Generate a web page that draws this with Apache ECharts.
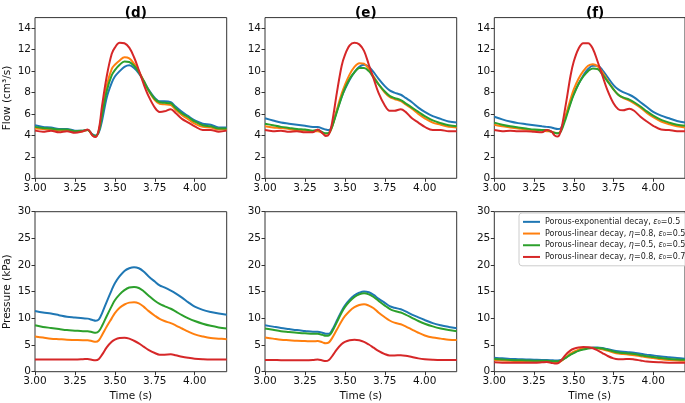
<!DOCTYPE html>
<html><head><meta charset="utf-8">
<script src="https://cdn.jsdelivr.net/npm/echarts@6/dist/echarts.min.js"></script>
<style>html,body{margin:0;padding:0;background:#fff}#c{width:685px;height:403px}</style>
</head><body><div id="c"></div>
<script>
const time = [3.00,3.05,3.10,3.15,3.20,3.25,3.30,3.33,3.36,3.38,3.40,3.42,3.45,3.48,3.50,3.53,3.56,3.59,3.62,3.65,3.68,3.71,3.75,3.78,3.81,3.85,3.88,3.92,3.96,4.00,4.05,4.10,4.15,4.20];
const seriesNames = ['Porous-exponential decay, ε₀=0.5','Porous-linear decay, η=0.8, ε₀=0.5','Porous-linear decay, η=0.5, ε₀=0.5','Porous-linear decay, η=0.8, ε₀=0.7'];
const colors = ['#1f77b4','#ff7f0e','#2ca02c','#d62728'];
const panelTitles = ['(d)','(e)','(f)'];
const xTicks = [3.00,3.25,3.50,3.75,4.00];

// Flow (cm^3/s), panel d
const flowD_blue  = [4.95,4.8,4.75,4.6,4.6,4.45,4.45,4.5,4.1,4.0,4.3,5.4,7.6,8.9,9.5,10.0,10.4,10.55,10.3,9.8,9.1,8.3,7.5,7.2,7.2,7.1,6.7,6.2,5.8,5.4,5.1,5.0,4.75,4.75];
const flowD_orange= [4.65,4.6,4.55,4.45,4.5,4.35,4.4,4.5,4.0,3.9,4.5,6.2,8.7,10.2,10.6,11.0,11.3,11.2,10.7,10.0,9.1,8.2,7.3,6.95,6.9,6.85,6.4,5.9,5.5,5.1,4.8,4.75,4.55,4.55];
const flowD_green = [4.8,4.7,4.65,4.55,4.55,4.4,4.45,4.5,4.05,3.95,4.4,5.9,8.2,9.6,10.1,10.6,10.9,10.85,10.5,9.9,9.1,8.25,7.4,7.1,7.05,7.0,6.55,6.05,5.7,5.3,4.95,4.85,4.65,4.65];
const flowD_red   = [4.45,4.35,4.45,4.3,4.4,4.25,4.4,4.55,4.0,3.85,4.6,6.8,9.6,11.6,12.2,12.65,12.6,12.2,11.3,10.1,8.8,7.7,6.6,6.2,6.25,6.45,6.1,5.55,5.2,4.85,4.5,4.5,4.35,4.45];
// Flow, panel e
const flowE_blue  = [5.6,5.4,5.2,5.1,5.0,4.9,4.8,4.8,4.65,4.55,4.5,4.9,6.3,7.6,8.3,9.2,9.9,10.4,10.6,10.4,9.9,9.3,8.6,8.2,8.0,7.8,7.5,7.1,6.6,6.2,5.8,5.55,5.3,5.2];
const flowE_orange= [4.85,4.75,4.7,4.6,4.5,4.45,4.4,4.4,4.25,4.15,4.2,4.8,6.4,7.9,8.7,9.7,10.4,10.75,10.7,10.2,9.5,8.8,8.0,7.6,7.4,7.2,6.9,6.5,6.0,5.6,5.2,5.0,4.8,4.75];
const flowE_green = [5.1,4.95,4.8,4.7,4.6,4.55,4.45,4.5,4.3,4.2,4.25,4.8,6.2,7.6,8.4,9.3,9.9,10.3,10.3,10.0,9.4,8.8,8.1,7.7,7.5,7.3,7.0,6.6,6.2,5.8,5.4,5.15,4.95,4.85];
const flowE_red   = [4.5,4.4,4.45,4.35,4.4,4.3,4.3,4.55,4.2,3.95,4.1,5.2,8.0,10.5,11.5,12.4,12.65,12.5,11.9,10.6,9.3,8.0,6.8,6.3,6.3,6.45,6.2,5.6,5.2,4.8,4.5,4.5,4.4,4.4];
// Flow, panel f
const flowF_blue  = [5.75,5.5,5.3,5.15,5.05,4.95,4.85,4.8,4.75,4.65,4.6,4.7,5.8,7.1,7.9,8.8,9.6,10.2,10.5,10.5,10.1,9.5,8.7,8.3,8.05,7.8,7.55,7.1,6.65,6.2,5.85,5.6,5.35,5.2];
const flowF_orange= [5.0,4.85,4.75,4.65,4.55,4.5,4.45,4.4,4.35,4.25,4.2,4.5,5.9,7.4,8.3,9.3,10.0,10.5,10.65,10.45,9.9,9.2,8.3,7.8,7.5,7.25,7.0,6.6,6.1,5.7,5.3,5.05,4.85,4.75];
const flowF_green = [5.2,5.0,4.85,4.75,4.65,4.55,4.5,4.5,4.35,4.25,4.2,4.4,5.6,7.0,7.8,8.8,9.5,10.0,10.25,10.2,9.7,9.1,8.3,7.8,7.55,7.35,7.1,6.7,6.25,5.85,5.45,5.2,5.0,4.9];
const flowF_red   = [4.5,4.4,4.45,4.4,4.4,4.35,4.3,4.5,4.35,4.0,3.9,4.5,6.9,9.6,10.9,12.1,12.6,12.6,12.1,10.9,9.6,8.3,7.0,6.45,6.35,6.5,6.3,5.75,5.3,4.9,4.55,4.5,4.4,4.4];
// Pressure (kPa), panel d
const presD_blue  = [11.4,11.1,10.9,10.6,10.3,10.15,10.0,9.95,9.7,9.55,9.8,11.0,13.2,15.3,16.6,17.9,18.9,19.4,19.6,19.4,18.8,17.9,16.9,16.2,15.8,15.2,14.7,13.9,13.0,12.2,11.6,11.2,10.9,10.7];
const presD_orange= [6.6,6.4,6.2,6.1,6.0,5.95,5.9,5.9,5.7,5.6,5.9,6.9,8.5,10.0,11.0,12.0,12.6,12.95,13.0,12.8,12.2,11.4,10.5,9.9,9.5,9.1,8.7,8.1,7.5,7.0,6.6,6.3,6.2,6.1];
const presD_green = [8.7,8.4,8.2,8.0,7.8,7.7,7.6,7.6,7.4,7.3,7.6,8.6,10.5,12.3,13.4,14.5,15.3,15.8,15.9,15.7,15.1,14.3,13.3,12.7,12.3,11.8,11.3,10.6,10.0,9.5,9.0,8.6,8.3,8.1];
const presD_red   = [2.3,2.3,2.3,2.3,2.3,2.3,2.35,2.4,2.2,2.15,2.4,3.2,4.6,5.6,6.0,6.3,6.35,6.2,5.8,5.3,4.7,4.1,3.5,3.2,3.2,3.25,3.1,2.8,2.6,2.45,2.35,2.3,2.3,2.3];
// Pressure, panel e
const presE_blue  = [8.7,8.45,8.2,8.0,7.8,7.65,7.5,7.5,7.3,7.1,7.1,7.8,9.6,11.4,12.4,13.5,14.3,14.8,15.05,14.9,14.4,13.7,12.9,12.3,12.0,11.7,11.3,10.7,10.2,9.7,9.1,8.7,8.4,8.15];
const presE_orange= [6.4,6.2,6.0,5.9,5.8,5.75,5.7,5.75,5.5,5.35,5.5,6.3,7.9,9.5,10.4,11.4,12.1,12.5,12.65,12.4,11.9,11.1,10.2,9.6,9.2,8.9,8.5,7.9,7.3,6.8,6.4,6.2,6.0,5.95];
const presE_green = [8.1,7.85,7.6,7.45,7.3,7.2,7.1,7.1,6.9,6.75,6.8,7.5,9.3,11.1,12.1,13.2,14.0,14.5,14.7,14.5,14.0,13.3,12.4,11.8,11.4,11.1,10.7,10.1,9.5,9.0,8.5,8.1,7.8,7.6];
const presE_red   = [2.2,2.2,2.15,2.15,2.15,2.15,2.2,2.3,2.1,2.0,2.2,2.9,4.2,5.2,5.6,5.9,6.0,5.9,5.6,5.1,4.5,3.9,3.3,3.05,3.05,3.1,3.0,2.75,2.5,2.35,2.25,2.2,2.2,2.2];
// Pressure, panel f
const presF_blue  = [2.6,2.5,2.4,2.35,2.3,2.25,2.2,2.2,2.15,2.1,2.1,2.2,2.7,3.3,3.6,4.0,4.3,4.45,4.55,4.55,4.45,4.25,4.0,3.85,3.75,3.65,3.55,3.35,3.2,3.05,2.85,2.7,2.55,2.45];
const presF_orange= [2.2,2.1,2.05,2.0,1.95,1.9,1.9,1.9,1.85,1.8,1.8,2.0,2.7,3.4,3.75,4.15,4.4,4.5,4.5,4.4,4.2,3.95,3.6,3.4,3.3,3.2,3.1,2.9,2.7,2.55,2.35,2.2,2.1,2.05];
const presF_green = [2.4,2.3,2.2,2.15,2.1,2.05,2.05,2.05,2.0,1.95,1.95,2.1,2.6,3.2,3.5,3.9,4.15,4.35,4.45,4.45,4.35,4.1,3.8,3.6,3.5,3.4,3.3,3.1,2.9,2.75,2.55,2.4,2.3,2.25];
const presF_red   = [1.75,1.7,1.7,1.7,1.7,1.7,1.75,1.8,1.65,1.55,1.6,2.1,3.2,4.0,4.3,4.55,4.65,4.6,4.4,4.0,3.5,3.0,2.5,2.35,2.35,2.4,2.3,2.1,1.9,1.8,1.75,1.7,1.7,1.7];

const panels = [
  [flowD_blue,flowD_orange,flowD_green,flowD_red],
  [flowE_blue,flowE_orange,flowE_green,flowE_red],
  [flowF_blue,flowF_orange,flowF_green,flowF_red],
  [presD_blue,presD_orange,presD_green,presD_red],
  [presE_blue,presE_orange,presE_green,presE_red],
  [presF_blue,presF_orange,presF_green,presF_red]
];

const FONT = 'DejaVu Sans';
const lefts = [35, 265, 494.3];
const W = 191.7;
const grids = [], xAxes = [], yAxes = [], series = [];
for (let i = 0; i < 6; i++) {
  const row = Math.floor(i / 3), col = i % 3;
  grids.push({left: lefts[col], width: W, top: row === 0 ? 17.6 : 211.7, height: row === 0 ? 160.7 : 160,
    show: true, borderColor: '#333', borderWidth: 1, backgroundColor: 'transparent'});
  xAxes.push({type: 'value', gridIndex: i, min: 3.0, max: 4.2, interval: 0.25,
    axisLine: {show: false}, splitLine: {show: false},
    axisTick: {show: true, length: 3.5, lineStyle: {color: '#333'}},
    axisLabel: {showMaxLabel: false, color: '#111', fontFamily: FONT, fontSize: 10.5, margin: 4,
      formatter: v => v.toFixed(2)},
    name: row === 1 ? 'Time (s)' : '', nameLocation: 'middle', nameGap: 19,
    nameTextStyle: {color: '#111', fontFamily: FONT, fontSize: 10.5}});
  yAxes.push({type: 'value', gridIndex: i, min: 0, max: row === 0 ? 15 : 30, interval: row === 0 ? 2 : 5,
    axisLine: {show: false}, splitLine: {show: false},
    axisTick: {show: true, length: 3.5, lineStyle: {color: '#333'}},
    axisLabel: {showMaxLabel: row === 1, color: '#111', fontFamily: FONT, fontSize: 10.5, margin: 4},
    name: col === 0 ? (row === 0 ? 'Flow (cm³/s)' : 'Pressure (kPa)') : '',
    nameLocation: 'middle', nameGap: 22, nameRotate: 90,
    nameTextStyle: {color: '#111', fontFamily: FONT, fontSize: 10.5}});
  panels[i].forEach((arr, k) => {
    series.push({type: 'line', name: seriesNames[k], xAxisIndex: i, yAxisIndex: i,
      data: time.map((t, j) => [t, arr[j]]), smooth: 0.35, showSymbol: false, symbol: 'none',
      lineStyle: {width: 2, color: colors[k]}, itemStyle: {color: colors[k]}, z: 2 + k, animation: false});
  });
}

function legendFmt(name) {
  return name.replace(/ε₀/g, '{i|ε}₀').replace(/η/g, '{i|η}');
}

const chart = echarts.init(document.getElementById('c'), null, {renderer: 'canvas'});
chart.setOption({
  animation: false,
  color: colors,
  title: panelTitles.map((t, c) => ({text: t, left: lefts[c] + W / 2, top: 1, textAlign: 'center',
    textStyle: {fontFamily: FONT, fontSize: 13.5, fontWeight: 'bold', color: '#000'}})),
  grid: grids, xAxis: xAxes, yAxis: yAxes, series: series,
  legend: {orient: 'vertical', left: 519, top: 213, itemWidth: 17, itemHeight: 2, itemGap: 2,
    icon: 'rect', padding: [4, 4, 4, 4], borderColor: '#ccc', borderWidth: 1, borderRadius: 3,
    backgroundColor: 'rgba(255,255,255,0.8)',
    data: seriesNames, formatter: legendFmt,
    textStyle: {fontFamily: FONT, fontSize: 8, color: '#222', lineHeight: 9.7,
      rich: {i: {fontStyle: 'italic', fontFamily: FONT, fontSize: 8, color: '#222'}}}}
});
</script></body></html>
